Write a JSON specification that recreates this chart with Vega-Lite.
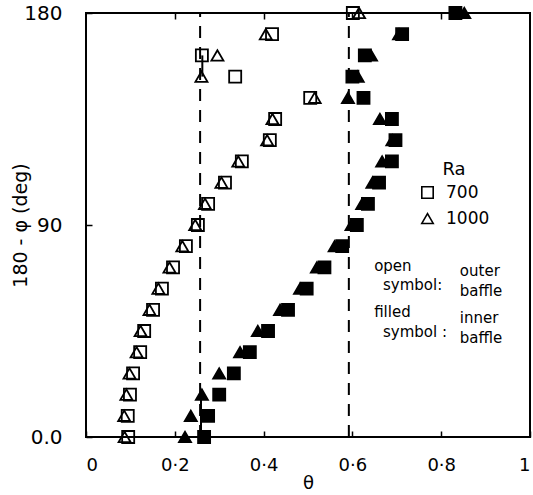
{
  "$schema": "https://vega.github.io/schema/vega-lite/v6.json",
  "width": 444,
  "height": 424,
  "autosize": "none",
  "padding": {"left": 86, "top": 13, "right": 3, "bottom": 58},
  "background": "white",
  "config": {
    "view": {"stroke": "black", "strokeWidth": 2},
    "font": "DejaVu Sans",
    "axis": {"domain": false, "grid": false, "tickColor": "black", "tickWidth": 1.5, "labelColor": "black", "titleColor": "black", "titleFontWeight": "normal"}
  },
  "datasets": {
    "points": [
      {"deg": 0, "theta": 0.095, "Ra": "700", "baffle": "outer"},
      {"deg": 9, "theta": 0.094, "Ra": "700", "baffle": "outer"},
      {"deg": 18, "theta": 0.099, "Ra": "700", "baffle": "outer"},
      {"deg": 27, "theta": 0.106, "Ra": "700", "baffle": "outer"},
      {"deg": 36, "theta": 0.122, "Ra": "700", "baffle": "outer"},
      {"deg": 45, "theta": 0.131, "Ra": "700", "baffle": "outer"},
      {"deg": 54, "theta": 0.151, "Ra": "700", "baffle": "outer"},
      {"deg": 63, "theta": 0.171, "Ra": "700", "baffle": "outer"},
      {"deg": 72, "theta": 0.196, "Ra": "700", "baffle": "outer"},
      {"deg": 81, "theta": 0.225, "Ra": "700", "baffle": "outer"},
      {"deg": 90, "theta": 0.252, "Ra": "700", "baffle": "outer"},
      {"deg": 99, "theta": 0.275, "Ra": "700", "baffle": "outer"},
      {"deg": 108, "theta": 0.313, "Ra": "700", "baffle": "outer"},
      {"deg": 117, "theta": 0.351, "Ra": "700", "baffle": "outer"},
      {"deg": 126, "theta": 0.414, "Ra": "700", "baffle": "outer"},
      {"deg": 135, "theta": 0.426, "Ra": "700", "baffle": "outer"},
      {"deg": 144, "theta": 0.505, "Ra": "700", "baffle": "outer"},
      {"deg": 153, "theta": 0.336, "Ra": "700", "baffle": "outer"},
      {"deg": 162, "theta": 0.261, "Ra": "700", "baffle": "outer"},
      {"deg": 171, "theta": 0.419, "Ra": "700", "baffle": "outer"},
      {"deg": 180, "theta": 0.601, "Ra": "700", "baffle": "outer"},
      {"deg": 0, "theta": 0.087, "Ra": "1000", "baffle": "outer"},
      {"deg": 9, "theta": 0.086, "Ra": "1000", "baffle": "outer"},
      {"deg": 18, "theta": 0.091, "Ra": "1000", "baffle": "outer"},
      {"deg": 27, "theta": 0.098, "Ra": "1000", "baffle": "outer"},
      {"deg": 36, "theta": 0.114, "Ra": "1000", "baffle": "outer"},
      {"deg": 45, "theta": 0.123, "Ra": "1000", "baffle": "outer"},
      {"deg": 54, "theta": 0.143, "Ra": "1000", "baffle": "outer"},
      {"deg": 63, "theta": 0.163, "Ra": "1000", "baffle": "outer"},
      {"deg": 72, "theta": 0.188, "Ra": "1000", "baffle": "outer"},
      {"deg": 81, "theta": 0.217, "Ra": "1000", "baffle": "outer"},
      {"deg": 90, "theta": 0.246, "Ra": "1000", "baffle": "outer"},
      {"deg": 99, "theta": 0.268, "Ra": "1000", "baffle": "outer"},
      {"deg": 108, "theta": 0.305, "Ra": "1000", "baffle": "outer"},
      {"deg": 117, "theta": 0.343, "Ra": "1000", "baffle": "outer"},
      {"deg": 126, "theta": 0.408, "Ra": "1000", "baffle": "outer"},
      {"deg": 135, "theta": 0.42, "Ra": "1000", "baffle": "outer"},
      {"deg": 144, "theta": 0.515, "Ra": "1000", "baffle": "outer"},
      {"deg": 153, "theta": 0.26, "Ra": "1000", "baffle": "outer"},
      {"deg": 162, "theta": 0.296, "Ra": "1000", "baffle": "outer"},
      {"deg": 171, "theta": 0.405, "Ra": "1000", "baffle": "outer"},
      {"deg": 180, "theta": 0.615, "Ra": "1000", "baffle": "outer"},
      {"deg": 0, "theta": 0.266, "Ra": "700", "baffle": "inner"},
      {"deg": 9, "theta": 0.275, "Ra": "700", "baffle": "inner"},
      {"deg": 18, "theta": 0.3, "Ra": "700", "baffle": "inner"},
      {"deg": 27, "theta": 0.333, "Ra": "700", "baffle": "inner"},
      {"deg": 36, "theta": 0.369, "Ra": "700", "baffle": "inner"},
      {"deg": 45, "theta": 0.41, "Ra": "700", "baffle": "inner"},
      {"deg": 54, "theta": 0.455, "Ra": "700", "baffle": "inner"},
      {"deg": 63, "theta": 0.497, "Ra": "700", "baffle": "inner"},
      {"deg": 72, "theta": 0.537, "Ra": "700", "baffle": "inner"},
      {"deg": 81, "theta": 0.577, "Ra": "700", "baffle": "inner"},
      {"deg": 90, "theta": 0.61, "Ra": "700", "baffle": "inner"},
      {"deg": 99, "theta": 0.635, "Ra": "700", "baffle": "inner"},
      {"deg": 108, "theta": 0.66, "Ra": "700", "baffle": "inner"},
      {"deg": 117, "theta": 0.689, "Ra": "700", "baffle": "inner"},
      {"deg": 126, "theta": 0.697, "Ra": "700", "baffle": "inner"},
      {"deg": 135, "theta": 0.689, "Ra": "700", "baffle": "inner"},
      {"deg": 144, "theta": 0.625, "Ra": "700", "baffle": "inner"},
      {"deg": 153, "theta": 0.6, "Ra": "700", "baffle": "inner"},
      {"deg": 162, "theta": 0.628, "Ra": "700", "baffle": "inner"},
      {"deg": 171, "theta": 0.712, "Ra": "700", "baffle": "inner"},
      {"deg": 180, "theta": 0.832, "Ra": "700", "baffle": "inner"},
      {"deg": 0, "theta": 0.223, "Ra": "1000", "baffle": "inner"},
      {"deg": 9, "theta": 0.236, "Ra": "1000", "baffle": "inner"},
      {"deg": 18, "theta": 0.261, "Ra": "1000", "baffle": "inner"},
      {"deg": 27, "theta": 0.3, "Ra": "1000", "baffle": "inner"},
      {"deg": 36, "theta": 0.347, "Ra": "1000", "baffle": "inner"},
      {"deg": 45, "theta": 0.387, "Ra": "1000", "baffle": "inner"},
      {"deg": 54, "theta": 0.437, "Ra": "1000", "baffle": "inner"},
      {"deg": 63, "theta": 0.482, "Ra": "1000", "baffle": "inner"},
      {"deg": 72, "theta": 0.52, "Ra": "1000", "baffle": "inner"},
      {"deg": 81, "theta": 0.56, "Ra": "1000", "baffle": "inner"},
      {"deg": 90, "theta": 0.598, "Ra": "1000", "baffle": "inner"},
      {"deg": 99, "theta": 0.622, "Ra": "1000", "baffle": "inner"},
      {"deg": 108, "theta": 0.645, "Ra": "1000", "baffle": "inner"},
      {"deg": 117, "theta": 0.667, "Ra": "1000", "baffle": "inner"},
      {"deg": 126, "theta": 0.69, "Ra": "1000", "baffle": "inner"},
      {"deg": 135, "theta": 0.662, "Ra": "1000", "baffle": "inner"},
      {"deg": 144, "theta": 0.59, "Ra": "1000", "baffle": "inner"},
      {"deg": 153, "theta": 0.612, "Ra": "1000", "baffle": "inner"},
      {"deg": 162, "theta": 0.642, "Ra": "1000", "baffle": "inner"},
      {"deg": 171, "theta": 0.705, "Ra": "1000", "baffle": "inner"},
      {"deg": 180, "theta": 0.852, "Ra": "1000", "baffle": "inner"}
    ],
    "dashed": [
      {"theta": 0.257, "deg": 0, "deg2": 180},
      {"theta": 0.592, "deg": 0, "deg2": 180}
    ],
    "solid": [
      {"theta": 0.259, "deg": 0, "deg2": 18},
      {"theta": 0.262, "deg": 153, "deg2": 162}
    ],
    "notes": [
      {"text": "open", "theta": 0.649, "deg": 72.5},
      {"text": "symbol:", "theta": 0.669, "deg": 64.5},
      {"text": "outer", "theta": 0.842, "deg": 70.5},
      {"text": "baffle", "theta": 0.842, "deg": 62},
      {"text": "filled", "theta": 0.649, "deg": 53},
      {"text": "symbol :", "theta": 0.669, "deg": 44.5},
      {"text": "inner", "theta": 0.842, "deg": 50.5},
      {"text": "baffle", "theta": 0.842, "deg": 42}
    ]
  },
  "resolve": {"axis": {"x": "independent"}},
  "layer": [
    {
      "data": {"name": "dashed"},
      "mark": {"type": "rule", "color": "black", "strokeWidth": 2, "strokeDash": [12, 9]},
      "encoding": {
        "x": {"field": "theta", "type": "quantitative", "scale": {"domain": [0, 1], "nice": false},
          "axis": {"orient": "top", "values": [0.2, 0.4, 0.6, 0.8], "labels": false, "title": null, "tickSize": -6}},
        "y": {"field": "deg", "type": "quantitative", "scale": {"domain": [0, 180], "nice": false},
          "axis": {"title": "180 - φ (deg)", "values": [0, 90, 180], "labelExpr": "datum.value == 0 ? '0.0' : datum.label",
            "tickSize": -6, "labelPadding": 30, "labelFontSize": 20, "titleFontSize": 19,
            "titleX": -66, "titleY": 212, "titleAngle": 270, "titleAlign": "center", "titleBaseline": "middle"}},
        "y2": {"field": "deg2"}
      }
    },
    {
      "data": {"name": "solid"},
      "mark": {"type": "rule", "color": "black", "strokeWidth": 2},
      "encoding": {
        "x": {"field": "theta", "type": "quantitative", "axis": null},
        "y": {"field": "deg", "type": "quantitative",
          "axis": {"title": "180 - φ (deg)", "values": [0, 90, 180], "labelExpr": "datum.value == 0 ? '0.0' : datum.label",
            "tickSize": -6, "labelPadding": 30, "labelFontSize": 20, "titleFontSize": 19,
            "titleX": -66, "titleY": 212, "titleAngle": 270, "titleAlign": "center", "titleBaseline": "middle"}},
        "y2": {"field": "deg2"}
      }
    },
    {
      "data": {"name": "points"},
      "mark": {"type": "point", "filled": true, "stroke": "black", "strokeWidth": 1.8, "size": 145, "opacity": 1},
      "encoding": {
        "x": {"field": "theta", "type": "quantitative",
          "axis": {"orient": "bottom", "title": "θ", "values": [0, 0.2, 0.4, 0.6, 0.8, 1], "format": "~g",
            "labelExpr": "replace(datum.label, '.', '·')", "tickSize": -6, "labelPadding": 25, "labelFontSize": 18,
            "titleFontSize": 18, "titlePadding": 0}},
        "y": {"field": "deg", "type": "quantitative",
          "axis": {"title": "180 - φ (deg)", "values": [0, 90, 180], "labelExpr": "datum.value == 0 ? '0.0' : datum.label",
            "tickSize": -6, "labelPadding": 30, "labelFontSize": 20, "titleFontSize": 19,
            "titleX": -66, "titleY": 212, "titleAngle": 270, "titleAlign": "center", "titleBaseline": "middle"}},
        "shape": {"field": "Ra", "type": "nominal", "scale": {"domain": ["700", "1000"], "range": ["square", "triangle-up"]},
          "legend": {"orient": "none", "legendX": 333, "legendY": 148, "title": "Ra", "titleFontSize": 18, "titleFontWeight": "normal",
            "titleAnchor": "middle", "labelFontSize": 17, "symbolSize": 130, "symbolFillColor": "white", "symbolStrokeColor": "black",
            "symbolStrokeWidth": 1.6, "rowPadding": 7, "labelOffset": 10, "titleColor": "black", "labelColor": "black"}},
        "fill": {"field": "baffle", "type": "nominal", "scale": {"domain": ["outer", "inner"], "range": ["transparent", "black"]}, "legend": null}
      }
    },
    {
      "data": {"name": "notes"},
      "mark": {"type": "text", "align": "left", "baseline": "middle", "fontSize": 15, "color": "black"},
      "encoding": {
        "x": {"field": "theta", "type": "quantitative", "axis": null},
        "y": {"field": "deg", "type": "quantitative",
          "axis": {"title": "180 - φ (deg)", "values": [0, 90, 180], "labelExpr": "datum.value == 0 ? '0.0' : datum.label",
            "tickSize": -6, "labelPadding": 30, "labelFontSize": 20, "titleFontSize": 19,
            "titleX": -66, "titleY": 212, "titleAngle": 270, "titleAlign": "center", "titleBaseline": "middle"}},
        "text": {"field": "text"}
      }
    }
  ]
}
